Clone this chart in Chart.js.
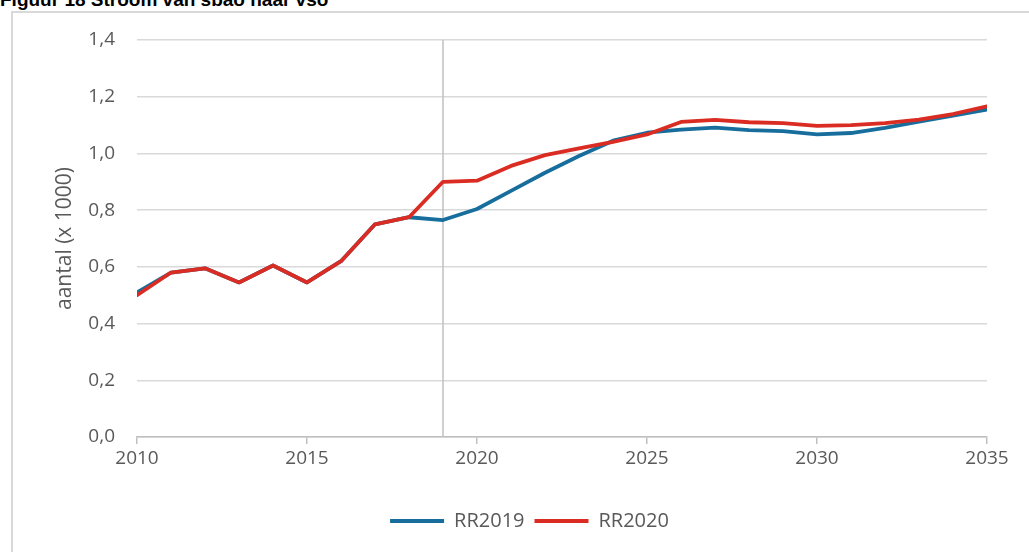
<!DOCTYPE html>
<html>
<head>
<meta charset="utf-8">
<script src="https://cdn.jsdelivr.net/npm/chart.js@4/dist/chart.umd.min.js"></script>
<style>
  html, body { margin: 0; padding: 0; background: #fff; overflow: hidden; }
  #wrap { position: relative; width: 1029px; height: 552px; }
  #frame { position: absolute; left: 11px; top: 11px; width: 1030px; height: 560px;
           border-left: 2px solid #d9d9d9; border-top: 2px solid #d9d9d9; box-sizing: border-box; }
  #title { position: absolute; left: 0px; top: -11px; font-family: "Liberation Sans", Arial, sans-serif;
           font-weight: bold; font-size: 19px; color: #000; white-space: nowrap; }
  canvas { position: absolute; left: 0; top: 0; }
</style>
</head>
<body>
<div id="wrap">
  <div id="frame"></div>
  <div id="title">Figuur 18 Stroom van sbao naar vso</div>
  <canvas id="c" width="1029" height="552"></canvas>
</div>
<script>
// ---- data ----
const years = [2010, 2011, 2012, 2013, 2014, 2015, 2016, 2017, 2018, 2019, 2020, 2021, 2022,
               2023, 2024, 2025, 2026, 2027, 2028, 2029, 2030, 2031, 2032, 2033, 2034, 2035];
const rr2019 = [0.51, 0.58, 0.595, 0.545, 0.605, 0.545, 0.62, 0.75, 0.775, 0.765, 0.804, 0.868, 0.932,
                0.991, 1.045, 1.073, 1.084, 1.091, 1.082, 1.079, 1.067, 1.072, 1.090, 1.112, 1.133, 1.155];
const rr2020 = [0.50, 0.58, 0.595, 0.545, 0.605, 0.545, 0.62, 0.75, 0.775, 0.900, 0.904, 0.956, 0.994,
                1.018, 1.041, 1.067, 1.111, 1.118, 1.110, 1.107, 1.097, 1.100, 1.107, 1.119, 1.139, 1.166];
const seriesNames = ['RR2019', 'RR2020'];
const forecastYear = 2019;
const yTicksMin = 0, yTicksMax = 1.4, yTicksStep = 0.2;
const xTicksStep = 5;
const yAxisTitle = 'aantal (x 1000)';

const toPoints = (arr) => arr.map((v, i) => ({ x: years[i], y: v }));

const FONT = '"Open Sans", "Noto Sans", sans-serif';
const TXT = '#595959';

const legendShift = {
  id: 'legendShift',
  afterLayout(chart) {
    chart.legend.left = 30;
    chart.legend.right = 1029;
  }
};

new Chart(document.getElementById('c'), {
  type: 'line',
  data: {
    datasets: [
      { label: seriesNames[0], data: toPoints(rr2019), borderColor: '#176d9c', backgroundColor: '#176d9c',
        borderWidth: 3.8, pointRadius: 0, tension: 0, borderJoinStyle: 'round', borderCapStyle: 'round', order: 1 },
      { label: seriesNames[1], data: toPoints(rr2020), borderColor: '#da2c22', backgroundColor: '#da2c22',
        borderWidth: 3.8, pointRadius: 0, tension: 0, borderJoinStyle: 'round', borderCapStyle: 'round', order: 0 },
      { label: 'forecast', data: [{ x: forecastYear, y: yTicksMin }, { x: forecastYear, y: yTicksMax }],
        borderColor: '#c0c0c0', borderWidth: 1.5, pointRadius: 0, order: 2 }
    ]
  },
  options: {
    responsive: false,
    animation: false,
    layout: { padding: { left: 0, right: 42, top: 40, bottom: 11 } },
    plugins: {
      tooltip: { enabled: false },
      legend: {
        position: 'bottom',
        labels: {
          filter: (item) => item.datasetIndex < 2,
          sort: (a, b) => a.datasetIndex - b.datasetIndex,
          usePointStyle: true,
          pointStyle: 'line',
          pointStyleWidth: 54,
          boxHeight: 4,
          padding: 10,
          color: TXT,
          font: { family: FONT, size: 20 }
        }
      }
    },
    scales: {
      x: {
        type: 'linear',
        min: years[0], max: years[years.length - 1],
        ticks: { stepSize: xTicksStep, color: TXT, font: { family: FONT, size: 19 }, padding: 3,
                 callback: (v) => String(v), maxRotation: 0 },
        grid: { drawOnChartArea: false, drawTicks: true, tickLength: 7, color: '#bfbfbf', lineWidth: 1.5 },
        border: { display: true, color: '#bfbfbf', width: 1.5 },
        afterFit: (s) => { s.height = 64; }
      },
      y: {
        min: yTicksMin, max: yTicksMax,
        ticks: { stepSize: yTicksStep, color: TXT, font: { family: FONT, size: 19 }, padding: 22,
                 callback: (v) => Number(v).toFixed(1).replace('.', ',') },
        grid: { drawTicks: false, color: '#d9d9d9', lineWidth: 1.5 },
        border: { display: false },
        title: { display: true, text: yAxisTitle, color: TXT, font: { family: FONT, size: 21 },
                 padding: { top: 52, bottom: 0 } },
        afterFit: (s) => { s.width = 137; }
      }
    }
  },
  plugins: [legendShift]
});
</script>
</body>
</html>
